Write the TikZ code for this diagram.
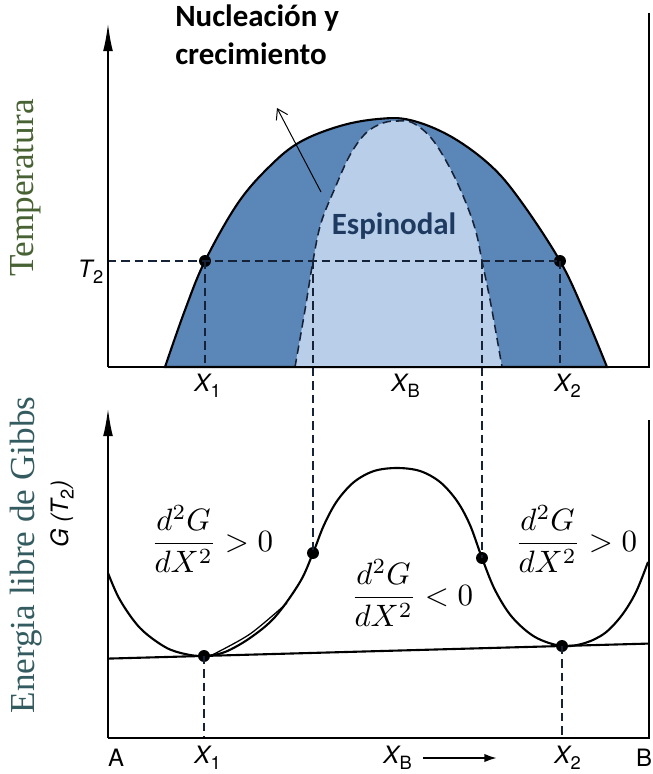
\documentclass[tikz,border=0pt]{standalone}
\usepackage{amsmath}
\usepackage{fontspec}
\newfontfamily\calibri{Carlito}
\newfontfamily\heros{TeX Gyre Heros}
\newfontfamily\herosit{TeX Gyre Heros}[FakeSlant=0.2]
\newfontfamily\timesf{Liberation Serif}
\usetikzlibrary{arrows.meta}
\definecolor{binfill}{RGB}{91,134,184}
\definecolor{spinfill}{RGB}{185,207,233}
\definecolor{guidecol}{RGB}{22,34,56}
\definecolor{espcol}{RGB}{30,58,96}
\definecolor{tempcol}{RGB}{72,98,52}
\definecolor{gibbscol}{RGB}{52,92,96}
\tikzset{
  axis/.style={line width=1.5pt,draw=black},
  yaxis/.style={axis,-{Latex[length=20pt,width=7pt]}},
  curve/.style={line width=1.5pt,draw=black},
  guide/.style={dash pattern=on 6pt off 3.5pt,line width=1.1pt,draw=guidecol},
  dot/.style={circle,fill=black,inner sep=0pt,minimum size=8.5pt},
  pointer/.style={-{Straight Barb[length=7pt,width=9pt]},line width=0.7pt},
  xlab/.style={font=\heros\fontsize{17}{17}\selectfont,inner sep=0pt},
  boldlab/.style={font=\calibri\bfseries\fontsize{22}{27}\selectfont,inner sep=0pt},
  sidelab/.style={rotate=90,font=\timesf\fontsize{25}{25}\selectfont,inner sep=0pt},
  fraclab/.style={scale=2.2,inner sep=0pt},
}
\newcommand{\xsub}[2]{{\herosit #1}\kern1.2pt\raisebox{-0.45ex}{\fontsize{13}{13}\selectfont #2}}

\begin{document}
\begin{tikzpicture}[x=0.025cm,y=-0.025cm]
  \useasboundingbox (0,0) rectangle (652,774);
  % phase diagram regions
  \filldraw[fill=binfill,curve] plot[smooth,tension=0.6] coordinates {(165,367) (185,310) (205,261) (238,203) (270,166) (300,142) (340,126) (378,119) (410,120) (450,136) (490,165) (520,200) (560,261) (585,314) (607,367)} -- cycle;
  \path[fill=spinfill,guide] plot[smooth,tension=0.6] coordinates {(295,367) (305,310) (313,261) (321,223) (335,188) (350,155) (366,133) (383,123) (398,121) (413,123) (432,139) (451,170) (466,203) (476,232) (482,261) (491,305) (502,367)} -- cycle;
  % T2 guides
  \node[dot] (pone) at (205,261) {};
  \node[dot] (ptwo) at (560,261) {};
  \coordinate (tax) at (108,261);
  \coordinate (sone) at (313,261);
  \coordinate (stwo) at (482,261);
  \coordinate (bone) at (205,367);
  \coordinate (btwo) at (560,367);
  \draw[guide] (tax) -- (ptwo.center);
  \draw[guide] (pone.center) -- (bone);
  \draw[guide] (ptwo.center) -- (btwo);
  % top axes
  \draw[axis] (108,367) -- (650,367);
  \draw[yaxis] (108,367) -- (108,23);
  \draw[axis] (649,13) -- (649,367);
  % free energy curve
  \draw[curve] plot[smooth,tension=0.55] coordinates {(108,573) (120,600) (140,628) (165,647) (185,654) (204,656) (225,652) (250,638) (275,617) (300,582) (313,553) (324,525) (337,501) (354,482) (374,471) (397,468) (420,471) (440,482) (457,501) (470,525) (482,558) (495,590) (512,617) (535,637) (562,646) (585,643) (605,633) (622,615) (636,592) (648,562)};
  \draw[line width=0.9pt] plot[smooth] coordinates {(212,655) (250,634) (287,603)};
  \coordinate (tla) at (108,658.6);
  \coordinate (tlb) at (648,643.6);
  \draw[curve] (tla) -- (tlb);
  \node[dot] (gone) at (204,656) {};
  \node[dot] (gtwo) at (562,646) {};
  \node[dot] (gsone) at (313,553) {};
  \node[dot] (gstwo) at (482,558) {};
  \coordinate (bgone) at (204,738);
  \coordinate (bgtwo) at (562,738);
  \draw[guide] (sone) -- (gsone.center);
  \draw[guide] (stwo) -- (gstwo.center);
  \draw[guide] (gone.center) -- (bgone);
  \draw[guide] (gtwo.center) -- (bgtwo);
  % bottom axes
  \draw[axis] (108,738) -- (650,738);
  \draw[yaxis] (108,738) -- (108,408);
  \draw[axis] (649,420) -- (649,738);
  % labels
  \node[boldlab,anchor=north west,align=left] (nuc) at (175,5) {Nucleación y\\crecimiento};
  \coordinate (ntail) at (321,192);
  \coordinate (ntip) at (277,108);
  \draw[pointer] (ntail) -- (ntip);
  \node[boldlab,text=espcol] (esp) at (394,226) {Espinodal};
  \node[sidelab,text=tempcol] (temp) at (26,188) {Temperatura};
  \node[sidelab,text=gibbscol] (gibbs) at (26,555) {Energia libre de Gibbs};
  \node[xlab,rotate=90] (gaxis) at (62,515) {{\herosit G (}\xsub{T}{2}{\herosit )}};
  \node[xlab] (ttwo) at (90,272) {\xsub{T}{2}};
  \node[xlab] (xone) at (207,386) {\xsub{X}{1}};
  \node[xlab] (xb) at (405,386) {\xsub{X}{B}};
  \node[xlab] (xtwo) at (567,386) {\xsub{X}{2}};
  \node[xlab] (ala) at (116,758) {A};
  \node[xlab] (xoneb) at (207,758) {\xsub{X}{1}};
  \node[xlab] (xbb) at (397,758) {\xsub{X}{B}};
  \coordinate (xarr) at (497,758);
  \draw[axis,-{Latex[length=9pt,width=6pt]}] ([xshift=8pt]xbb.east) -- (xarr);
  \node[xlab] (xtwob) at (567,758) {\xsub{X}{2}};
  \node[xlab] (blb) at (644,758) {B};
  \node[fraclab] (dleft) at (212,539) {$\displaystyle\frac{d^2G}{dX^2} > 0$};
  \node[fraclab] (dmid) at (412,593) {$\displaystyle\frac{d^2G}{dX^2} < 0$};
  \node[fraclab] (dright) at (576,539) {$\displaystyle\frac{d^2G}{dX^2} > 0$};
\end{tikzpicture}
\end{document}
